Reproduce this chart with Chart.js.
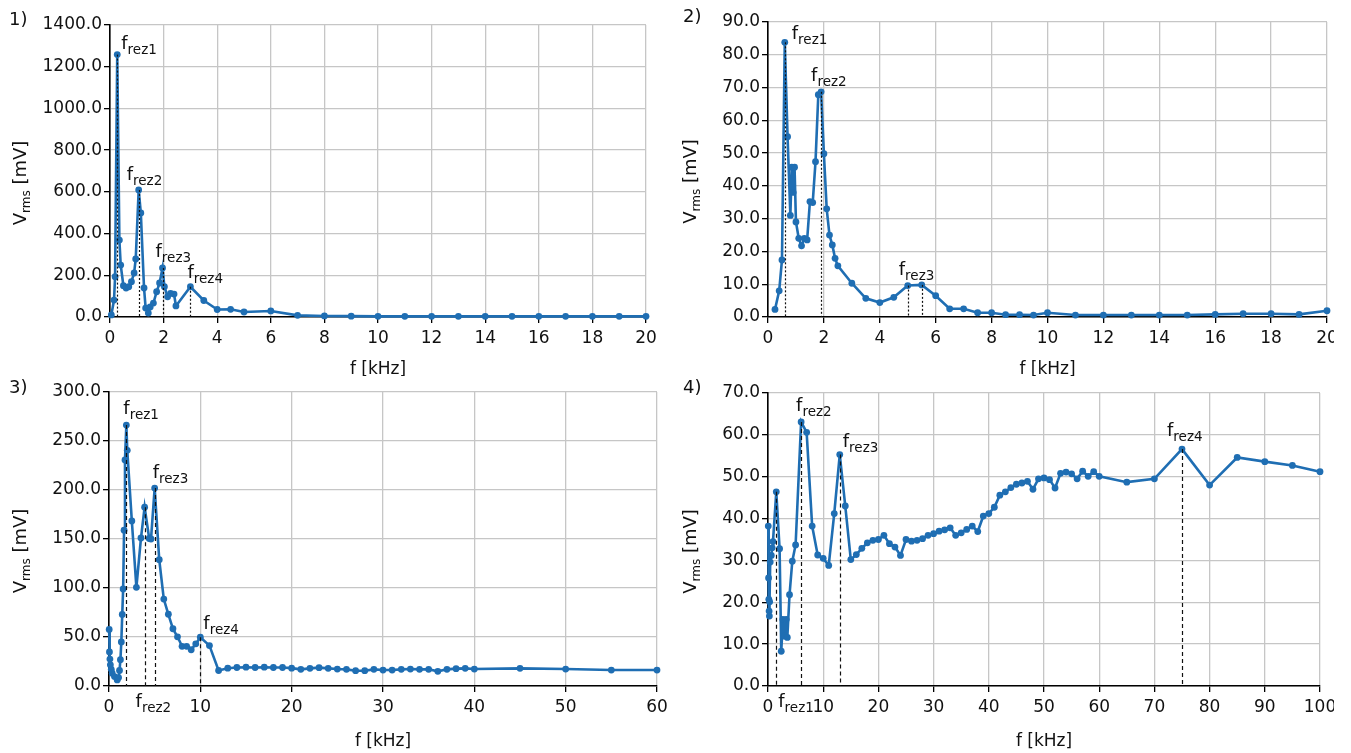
<!DOCTYPE html>
<html><head><meta charset="utf-8">
<script src="https://cdn.jsdelivr.net/npm/chart.js@4.4.0/dist/chart.umd.min.js"></script>
<style>
html,body{margin:0;padding:0;background:#fff;width:1351px;height:753px;overflow:hidden;}
.panel{position:absolute;overflow:hidden;}
.panel canvas{position:absolute;left:0;top:0;}
</style></head><body>
<div class="panel" style="left:0;top:0;width:680px;height:376px"><canvas id="c1" width="680" height="376"></canvas></div>
<div class="panel" style="left:680px;top:0;width:654px;height:376px"><canvas id="c2" width="671" height="376"></canvas></div>
<div class="panel" style="left:0;top:376px;width:680px;height:377px"><canvas id="c3" width="680" height="377"></canvas></div>
<div class="panel" style="left:680px;top:376px;width:654px;height:377px"><canvas id="c4" width="671" height="377"></canvas></div>
<script>
// ---------------- DATA ----------------
// Panel 1
const f1 = [0.05,0.15,0.19,0.27,0.35,0.4,0.5,0.6,0.7,0.8,0.9,0.96,1.07,1.15,1.27,1.33,1.43,1.5,1.62,1.74,1.85,1.96,2.03,2.15,2.26,2.39,2.46,3.0,3.5,4.0,4.5,5.0,6.0,7.0,8.0,9.0,10,11,12,13,14,15,16,17,18,19,20];
const v1 = [10,81,193,1258,369,249,150,139,145,169,211,278,609,499,139,43,19,48,67,121,163,235,145,97,113,110,53,145,79,36,37,24,29,8,5,4,3,3,3,3,3,3,3,3,3,3,3];
const rezF1 = [[0.27],[1.07],[1.96],[3.0]];
const rezN1 = ['rez1','rez2','rez3','rez4'];
const xTicks1 = {min:0,max:20,step:2};
const yTicks1 = {min:0,max:1400,step:200};
// Panel 2
const f2 = [0.25,0.4,0.5,0.6,0.7,0.8,0.85,0.9,0.95,1.0,1.1,1.2,1.3,1.4,1.5,1.6,1.7,1.8,1.9,2.0,2.1,2.2,2.3,2.4,2.5,3.0,3.5,4.0,4.5,5.0,5.5,6.0,6.5,7.0,7.5,8.0,8.5,9.0,9.5,10,11,12,13,14,15,16,17,18,19,20];
const v2 = [2.3,8.0,17.4,83.8,55.0,31.0,45.7,38.0,45.7,29.0,24.0,21.7,24.0,23.5,35.2,34.9,47.4,67.8,68.7,49.8,33.0,25.0,22.0,17.9,15.6,10.3,5.7,4.4,6.0,9.6,9.8,6.5,2.5,2.5,1.3,1.3,0.7,0.7,0.6,1.3,0.6,0.6,0.6,0.6,0.6,0.8,1.0,1.0,0.8,1.9];
const rezF2 = [[0.6],[1.9],[5.0,5.5]];
const rezN2 = ['rez1','rez2','rez3'];
const xTicks2 = {min:0,max:20,step:2};
const yTicks2 = {min:0,max:90,step:10};
// Panel 3
const f3 = [0.02,0.05,0.1,0.15,0.25,0.35,0.6,0.9,1.05,1.15,1.25,1.35,1.45,1.55,1.65,1.75,1.9,2.0,2.5,3.0,3.5,3.9,4.4,4.6,5.0,5.5,6.0,6.5,7.0,7.5,8.0,8.5,9.0,9.5,10,11,12,13,14,15,16,17,18,19,20,21,22,23,24,25,26,27,28,29,30,31,32,33,34,35,36,37,38,39,40,45,50,55,60];
const v3 = [57.7,34.7,27.5,21.6,17,13,9.6,6.2,8.6,15.8,26.8,45,73,99,159,230.6,266.3,240.5,168.4,100.7,151,182.5,150.5,150,202,128.9,88.7,73.2,58.4,50.2,40.5,40.5,37,43,49.8,41.2,15.8,18.2,18.9,19.2,18.9,19.2,18.9,18.9,18.2,17.0,18.0,18.7,18.0,17.3,17.0,15.6,15.6,17.0,16.3,16.3,17.0,17.3,17.0,17.0,15.0,17.0,17.7,18.0,17.3,18.0,17.3,16.3,16.3];
const rezF3 = [[1.9],[3.9],[5.0],[10]];
const rezN3 = ['rez1','rez2','rez3','rez4'];
const xTicks3 = {min:0,max:60,step:10};
const yTicks3 = {min:0,max:300,step:50};
// Panel 4
const f4 = [0.05,0.1,0.15,0.2,0.25,0.3,0.4,0.6,0.75,0.9,1.5,2.1,2.4,2.7,3.0,3.3,3.5,3.9,4.4,5.0,6,7,8,9,10,11,12,13,14,15,16,17,18,19,20,21,22,23,24,25,26,27,28,29,30,31,32,33,34,35,36,37,38,39,40,41,42,43,44,45,46,47,48,49,50,51,52,53,54,55,56,57,58,59,60,65,70,75,80,85,90,95,100];
const v4 = [38.2,25.8,20.7,17.9,16.7,20.1,29.6,31.2,33.0,34.5,46.4,32.8,8.3,15.9,11.9,15.9,11.6,21.8,29.8,33.7,63.1,60.6,38.2,31.3,30.5,28.8,41.2,55.3,43.0,30.2,31.4,32.9,34.2,34.8,35.0,36.0,34.0,33.2,31.2,35.0,34.6,34.8,35.2,36.0,36.4,37.0,37.3,37.8,36.0,36.6,37.4,38.2,36.9,40.6,41.2,42.7,45.6,46.4,47.4,48.2,48.5,48.9,47.0,49.5,49.7,49.3,47.3,50.8,51.1,50.7,49.5,51.3,50.1,51.2,50.1,48.7,49.5,56.6,48.0,54.6,53.6,52.7,51.2];
const rezF4 = [[1.5],[6],[13],[75]];
const rezN4 = ['rez1','rez2','rez3','rez4'];
const xTicks4 = {min:0,max:100,step:10};
const yTicks4 = {min:0,max:70,step:10};

// ---------------- STYLE / LAYOUT ----------------
const FONT = '"DejaVu Sans", sans-serif';
const BLUE = '#1f6eb3';
const GRID = '#c6c6c6';
const TXT = '#111111';

function rich(ctx, x, y, parts, center) {
  let w = 0;
  parts.forEach(p => { ctx.font = p[1] + 'px ' + FONT; w += ctx.measureText(p[0]).width; });
  let cx = center ? x - w / 2 : x;
  parts.forEach(p => {
    ctx.font = p[1] + 'px ' + FONT;
    ctx.fillText(p[0], cx, y + p[2]);
    cx += ctx.measureText(p[0]).width;
  });
}

const annoPlugin = {
  id: 'anno',
  afterDatasetsDraw(chart, args, o) {
    const ctx = chart.ctx, xs = chart.scales.x, ys = chart.scales.y;
    ctx.save();
    ctx.strokeStyle = '#111';
    ctx.lineWidth = 1.2;
    ctx.setLineDash(o.dash);
    o.rezF.forEach(list => list.forEach(f => {
      const v = o.vals[o.freqs.indexOf(f)];
      const px = Math.round(xs.getPixelForValue(f)) + 0.5;
      ctx.beginPath();
      ctx.moveTo(px, ys.getPixelForValue(v));
      ctx.lineTo(px, ys.getPixelForValue(0));
      ctx.stroke();
    }));
    ctx.restore();
  },
  afterDraw(chart, args, o) {
    const ctx = chart.ctx, xs = chart.scales.x, ys = chart.scales.y, ca = chart.chartArea;
    ctx.save();
    ctx.fillStyle = TXT;
    ctx.textAlign = 'left';
    ctx.textBaseline = 'alphabetic';
    o.rezF.forEach((list, i) => {
      const f = list[0];
      const v = o.vals[o.freqs.indexOf(f)];
      const off = o.labelOff[i];
      const px = xs.getPixelForValue(f);
      const y = off[2] ? ys.getPixelForValue(0) + off[1] : ys.getPixelForValue(v) + off[1];
      rich(ctx, px + off[0], y, [['f', 18, 0], [o.rezN[i], 13.5, 5]], false);
    });
    rich(ctx, (ca.left + ca.right) / 2, ca.bottom + o.xTitleDy, [['f [kHz]', 17, 0]], true);
    ctx.save();
    ctx.translate(o.yTitleX, (ca.top + ca.bottom) / 2 + o.yTitleDy);
    ctx.rotate(-Math.PI / 2);
    rich(ctx, 0, 6, [['V', 18, 0], ['rms', 12, 4], [' [mV]', 18, 0]], true);
    ctx.restore();
    rich(ctx, o.numPos[0], o.numPos[1], [[o.num, 18, 0]], false);
    ctx.restore();
  }
};

function build(id, fx, vy, xt, yt, rezF, rezN, L) {
  const pts = fx.map((x, i) => ({x: x, y: vy[i]}));
  const gridCfg = {color: GRID, lineWidth: 1.3, tickColor: '#000', tickLength: 6, tickWidth: 1.3};
  return new Chart(document.getElementById(id), {
    type: 'line',
    data: {datasets: [{
      data: pts, borderColor: BLUE, backgroundColor: BLUE, borderWidth: 2.6,
      pointRadius: 3.4, pointHoverRadius: 3.4, pointBorderWidth: 0, pointBackgroundColor: BLUE,
      tension: 0, clip: false
    }]},
    options: {
      responsive: false, animation: false, events: [],
      layout: {padding: L.pad},
      plugins: {
        legend: {display: false}, tooltip: {enabled: false},
        anno: {
          freqs: fx, vals: vy, rezF: rezF, rezN: rezN, dash: L.dash, labelOff: L.labelOff,
          xTitleDy: L.xTitleDy, yTitleX: L.yTitleX, yTitleDy: L.yTitleDy, num: L.num, numPos: L.numPos
        }
      },
      scales: {
        x: {
          type: 'linear', min: xt.min, max: xt.max,
          afterFit: s => { s.height = L.xH; },
          ticks: {stepSize: xt.step, autoSkip: false, maxRotation: 0, color: TXT,
                  font: {family: FONT, size: 17}, padding: 5, callback: v => String(v)},
          grid: gridCfg,
          border: {color: '#000', width: 1.6}
        },
        y: {
          type: 'linear', min: yt.min, max: yt.max,
          afterFit: s => { s.width = L.yW; },
          ticks: {stepSize: yt.step, color: TXT, font: {family: FONT, size: 17}, padding: 2,
                  callback: v => Number(v).toFixed(1)},
          grid: gridCfg,
          border: {color: '#000', width: 1.6}
        }
      }
    },
    plugins: [annoPlugin]
  });
}

build('c1', f1, v1, xTicks1, yTicks1, rezF1, rezN1, {
  pad: {left: 0, top: 25, right: 34, bottom: 0}, yW: 110, xH: 59,
  dash: [2, 2], labelOff: [[4, -6], [-12, -10], [-7, -11], [-3, -9]],
  xTitleDy: 57, yTitleX: 20, yTitleDy: 12, num: '1)', numPos: [9, 25]
});
build('c2', f2, v2, xTicks2, yTicks2, rezF2, rezN2, {
  pad: {left: 0, top: 22, right: 24, bottom: 0}, yW: 88, xH: 59,
  dash: [2, 2], labelOff: [[7, -3], [-10, -11], [-9, -11]],
  xTitleDy: 57, yTitleX: 10, yTitleDy: 12, num: '2)', numPos: [3, 22]
});
build('c3', f3, v3, xTicks3, yTicks3, rezF3, rezN3, {
  pad: {left: 0, top: 16, right: 23, bottom: 0}, yW: 109, xH: 67,
  dash: [4, 3], labelOff: [[-3, -11], [-9, 21, true], [-2, -10], [3, -8]],
  xTitleDy: 60, yTitleX: 20, yTitleDy: 12, num: '3)', numPos: [9, 17]
});
build('c4', f4, v4, xTicks4, yTicks4, rezF4, rezN4, {
  pad: {left: 0, top: 17, right: 31, bottom: 0}, yW: 88, xH: 67,
  dash: [4, 3], labelOff: [[2, 21, true], [-5, -11], [3, -8], [-15, -13]],
  xTitleDy: 60, yTitleX: 10, yTitleDy: 12, num: '4)', numPos: [3, 17]
});
</script>
</body></html>
